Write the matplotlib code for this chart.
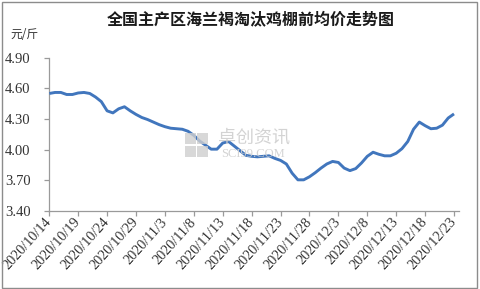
import matplotlib
matplotlib.use("Agg")
import matplotlib.pyplot as plt
import matplotlib.transforms as mtransforms
from matplotlib.patches import Rectangle
import numpy as np
import datetime as dt

# ---- data ----
start_date = dt.date(2020, 10, 14)
prices = [
    4.55, 4.56, 4.56, 4.54, 4.54, 4.555, 4.56, 4.55, 4.515, 4.47,
    4.38, 4.36, 4.40, 4.42, 4.38, 4.345, 4.315, 4.295, 4.27, 4.245,
    4.225, 4.21, 4.205, 4.20, 4.18, 4.14, 4.085, 4.045, 4.005, 4.005,
    4.065, 4.08, 4.035, 3.99, 3.945, 3.935, 3.93, 3.935, 3.94, 3.915,
    3.895, 3.86, 3.77, 3.705, 3.705, 3.735, 3.775, 3.82, 3.86, 3.885,
    3.875, 3.82, 3.795, 3.815, 3.87, 3.935, 3.975, 3.955, 3.94, 3.94,
    3.965, 4.01, 4.08, 4.20, 4.27, 4.235, 4.205, 4.21, 4.24, 4.31,
    4.35,
]
dates = [start_date + dt.timedelta(days=i) for i in range(len(prices))]
date_labels = [f"{d.year}/{d.month}/{d.day}" for d in dates]
y_ticks = [3.40, 3.70, 4.00, 4.30, 4.60, 4.90]
title = "全国主产区海兰褐淘汰鸡棚前均价走势图"
unit = "元/斤"

plt.rcParams['font.family'] = ['Noto Sans CJK SC', 'DejaVu Sans']

W, H = 481, 289
fig = plt.figure(figsize=(W / 100, H / 100), dpi=100)
fig.patch.set_facecolor('white')

# outer frame
fig.patches.append(Rectangle((1.5 / W, 1.5 / H), 476 / W, 285.5 / H,
                             transform=fig.transFigure, fill=False,
                             edgecolor='#8c8c8c', linewidth=1.0))

ax = fig.add_axes([49.3 / W, 1 - 211 / H, (459.5 - 49.3) / W, (211 - 57.7) / H])
x = np.arange(len(prices))
ax.plot(x, prices, color='#4176bd', linewidth=2.1, solid_joinstyle='round',
        solid_capstyle='butt', zorder=3)

ax.set_xlim(0, len(prices) - 1 + 0.95)
ax.set_ylim(3.40, 4.90)
ax.set_yticks(y_ticks)
ax.set_yticklabels([f"{v:.2f}" for v in y_ticks], fontfamily='Liberation Serif',
                   fontsize=10.5, color='#333333')
tick_idx = list(range(0, len(prices), 5))
ax.set_xticks(tick_idx)
labels = ax.set_xticklabels([date_labels[i] for i in tick_idx], rotation=48,
                            ha='right', va='center', rotation_mode='anchor',
                            fontfamily='Liberation Serif', fontsize=10.3,
                            color='#333333')
offset = mtransforms.ScaledTranslation(9 / 100, -6 / 100, fig.dpi_scale_trans)
for lab in labels:
    lab.set_transform(lab.get_transform() + offset)

for s in ['top', 'right']:
    ax.spines[s].set_visible(False)
for s in ['left', 'bottom']:
    ax.spines[s].set_color('#9a9a9a')
    ax.spines[s].set_linewidth(0.9)
ax.tick_params(axis='both', direction='out', length=3.5, width=0.9,
               color='#9a9a9a', pad=3)
ax.tick_params(axis='y', pad=10)

fig.text(251 / W, 1 - 20 / H, title, ha='center', va='center',
         fontsize=11.5, fontweight='bold', color='#1a1a1a')
fig.text(10 / W, 1 - 35 / H, unit, ha='left', va='center',
         fontsize=8.5, color='#333333')

# watermark
wm = '#cfcfcf'
for i in range(2):
    for j in range(2):
        fig.patches.append(Rectangle(((185 + i * 12) / W, 1 - (144 + j * 12.5) / H),
                                     10.5 / W, 11 / H, transform=fig.transFigure,
                                     facecolor=wm, edgecolor='none', alpha=0.8))
fig.text(254 / W, 1 - 138 / H, "卓创资讯", ha='center', va='center',
         fontsize=13, color=wm, alpha=0.9)
fig.text(253 / W, 1 - 154 / H, "SCI99.COM", ha='center', va='center',
         fontsize=9, fontfamily='Liberation Serif', color=wm, alpha=0.9)

fig.savefig('out.png', dpi=100, facecolor='white')
